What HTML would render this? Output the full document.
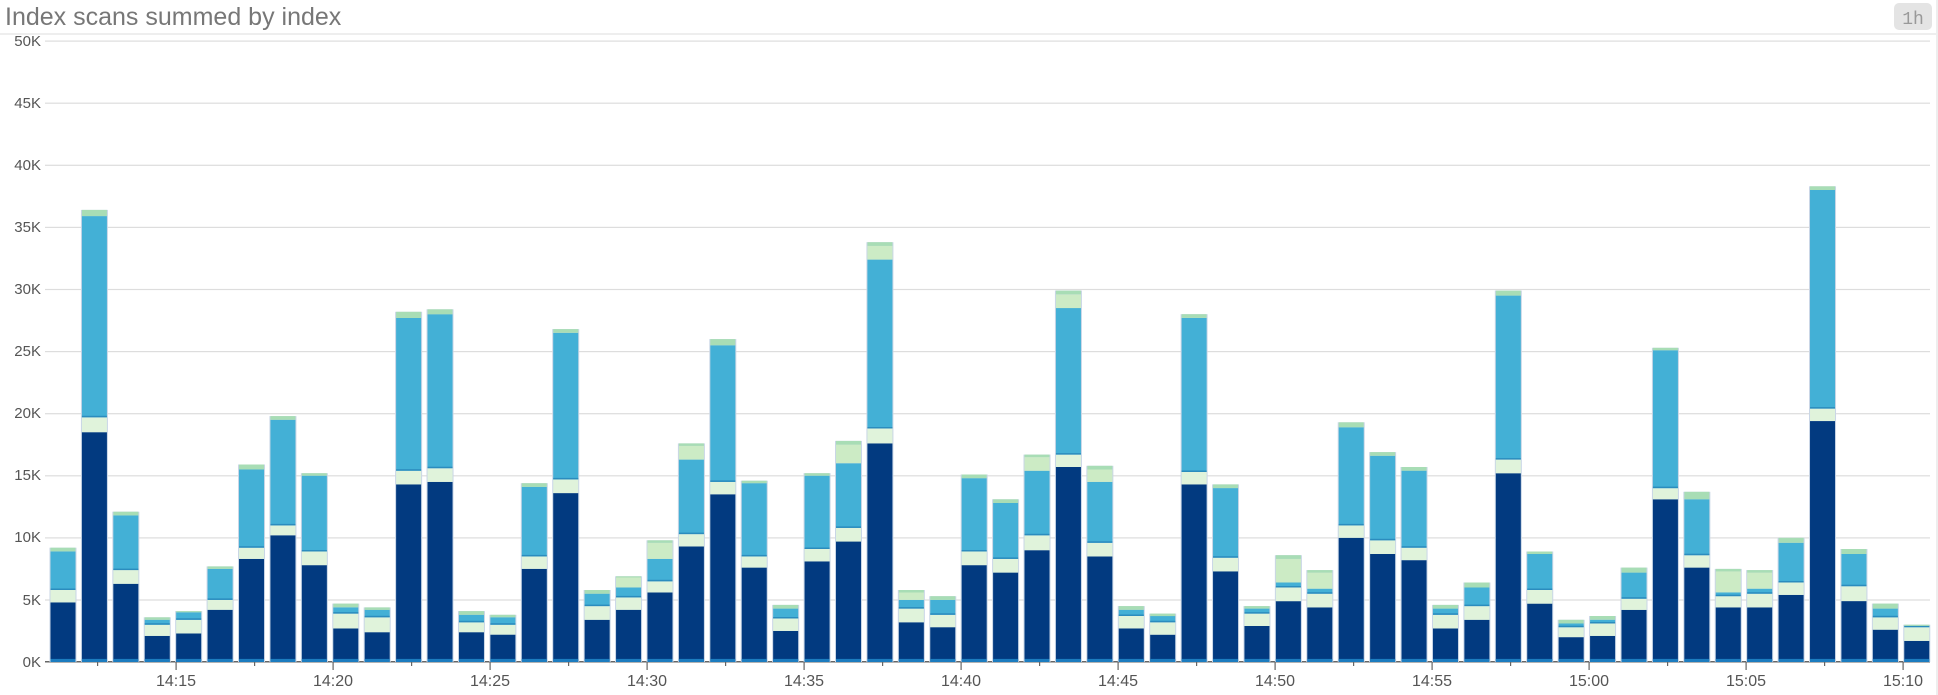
<!DOCTYPE html>
<html><head><meta charset="utf-8"><style>
html,body{margin:0;padding:0;background:#fff;width:1938px;height:695px;overflow:hidden;font-family:"Liberation Sans",sans-serif}
</style></head><body>
<svg id="s" width="1938" height="695" xmlns="http://www.w3.org/2000/svg" font-family="Liberation Sans, sans-serif">
<text x="5" y="25" font-size="25" fill="#777">Index scans summed by index</text>
<rect x="0" y="33" width="1936" height="2" fill="#eee"/>
<rect x="1936" y="0" width="2" height="695" fill="#eee"/>
<rect x="1894" y="3" width="38" height="27" rx="5" fill="#e4e4e4"/>
<text x="1913" y="24" font-size="18" fill="#999" text-anchor="middle" font-family="Liberation Mono, monospace">1h</text>
<g id="grid"></g>
<g id="bars"></g>
<g font-size="15" fill="#555" text-anchor="end">
<text x="41" y="46">50K</text><text x="41" y="108">45K</text><text x="41" y="170">40K</text><text x="41" y="232">35K</text><text x="41" y="294">30K</text><text x="41" y="356">25K</text><text x="41" y="418">20K</text><text x="41" y="480">15K</text><text x="41" y="542">10K</text><text x="41" y="605">5K</text><text x="41" y="667">0K</text>
</g>
<g font-size="16" fill="#555" text-anchor="middle">
<text x="176" y="686">14:15</text><text x="333" y="686">14:20</text><text x="490" y="686">14:25</text><text x="647" y="686">14:30</text><text x="804" y="686">14:35</text><text x="961" y="686">14:40</text><text x="1118" y="686">14:45</text><text x="1275" y="686">14:50</text><text x="1432" y="686">14:55</text><text x="1589" y="686">15:00</text><text x="1746" y="686">15:05</text><text x="1903" y="686">15:10</text>
</g>
</svg>
<script>
var NS="http://www.w3.org/2000/svg";
function el(p,t,a){var e=document.createElementNS(NS,t);for(var k in a)e.setAttribute(k,a[k]);p.appendChild(e);return e;}
var g=document.getElementById('grid'),b=document.getElementById('bars');
function Y(v){return 662-v*12.42;}
for(var i=1;i<=10;i++)el(g,'rect',{x:45,y:(Y(i*5)-0.5).toFixed(1),width:1885,height:1.2,fill:'#ddd'});
el(g,'rect',{x:45,y:661,width:1885,height:1.5,fill:'#666'});
for(var k=-1;k<24;k++){var x=176+k*78.5;if(x<45||x>1930)continue;el(g,'rect',{x:x-0.5,y:662,width:1.2,height:k%2==0?8:4,fill:'#666'});}
var D=[[4.8,5.8,8.9,0,9.2],[18.5,19.7,35.9,0,36.4],[6.3,7.4,11.8,0,12.1],[2.1,3.0,3.4,0,3.6],[2.3,3.4,4.0,0,4.1],[4.2,5.0,7.5,0,7.7],[8.3,9.2,15.5,0,15.9],[10.2,11.0,19.5,0,19.8],[7.8,8.9,15.0,0,15.2],[2.7,3.9,4.4,0,4.7],[2.4,3.6,4.2,0,4.4],[14.3,15.4,27.7,0,28.2],[14.5,15.6,28.0,0,28.4],[2.4,3.2,3.8,0,4.1],[2.2,3.0,3.6,0,3.8],[7.5,8.5,14.1,0,14.4],[13.6,14.7,26.5,0,26.8],[3.4,4.5,5.5,0,5.8],[4.2,5.2,6.0,6.8,6.9],[5.6,6.5,8.3,9.6,9.8],[9.3,10.3,16.3,17.4,17.6],[13.5,14.5,25.5,0,26.0],[7.6,8.5,14.4,0,14.6],[2.5,3.5,4.3,0,4.6],[8.1,9.1,15.0,0,15.2],[9.7,10.8,16.0,17.5,17.8],[17.6,18.8,32.4,33.5,33.8],[3.2,4.3,5.0,5.6,5.8],[2.8,3.8,5.0,0,5.3],[7.8,8.9,14.8,0,15.1],[7.2,8.3,12.8,0,13.1],[9.0,10.2,15.4,16.5,16.7],[15.7,16.7,28.5,29.6,29.9],[8.5,9.6,14.5,15.5,15.8],[2.7,3.7,4.2,0,4.5],[2.2,3.2,3.7,0,3.9],[14.3,15.3,27.7,0,28.0],[7.3,8.4,14.0,0,14.3],[2.9,3.9,4.3,0,4.5],[4.9,6.0,6.4,8.3,8.6],[4.4,5.5,5.9,7.2,7.4],[10.0,11.0,18.9,0,19.3],[8.7,9.8,16.6,0,16.9],[8.2,9.2,15.4,0,15.7],[2.7,3.8,4.3,0,4.6],[3.4,4.5,6.0,0,6.4],[15.2,16.3,29.5,0,29.9],[4.7,5.8,8.7,0,8.9],[2.0,2.8,3.1,0,3.4],[2.1,3.1,3.4,0,3.7],[4.2,5.1,7.2,0,7.6],[13.1,14.0,25.1,0,25.3],[7.6,8.6,13.1,0,13.7],[4.4,5.3,5.6,7.3,7.5],[4.4,5.5,5.9,7.2,7.4],[5.4,6.4,9.6,0,10.0],[19.4,20.4,38.0,0,38.3],[4.9,6.1,8.7,0,9.1],[2.6,3.6,4.3,0,4.7],[1.7,2.8,2.9,0,3.0]];
function R(x,a,c,col){if(c<=a)return;var y1=Y(c),y0=Y(a);el(b,'rect',{x:x,y:y1.toFixed(1),width:25,height:(y0-y1).toFixed(1),fill:col});}
D.forEach(function(d,i){
 var x=63+i*31.42-12.5;
 el(b,'rect',{x:x-1,y:Y(d[4]).toFixed(1),width:27,height:(662-Y(d[4])).toFixed(1),fill:'#c9d6e6'});
 R(x,0,d[0],'#023a80');
 R(x,0,0.25,'#1c7cbf');
 R(x,d[0],d[1],'#e0f3db');
 R(x,d[1],d[2],'#43b0d6');
 el(b,'rect',{x:x,y:(Y(d[1])-1.5).toFixed(1),width:25,height:1.5,fill:'#2b8cbe'});
 var top=d[2];
 if(d[3]){R(x,d[2],d[3],'#ccebc5');top=d[3];}
 R(x,top,d[4],'#a8ddb5');
});
</script>
</body></html>
